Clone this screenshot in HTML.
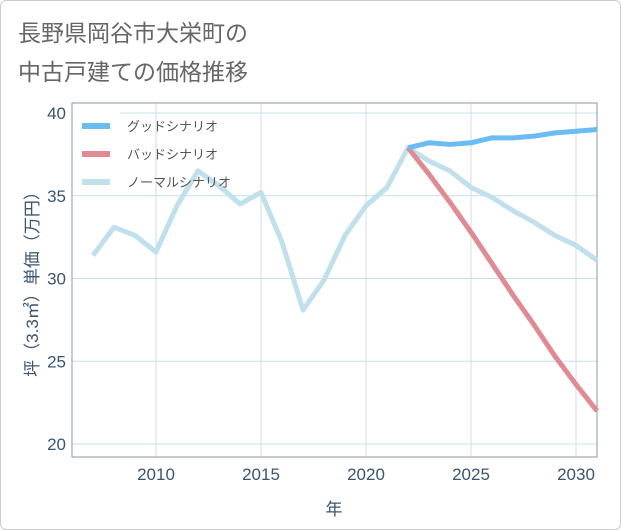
<!DOCTYPE html>
<html><head><meta charset="utf-8"><style>
body{margin:0;background:#fff;}
#card{position:absolute;left:0;top:0;width:619px;height:528px;border:1px solid #ccc;border-radius:6px;background:#fff;}
text{font-family:"Liberation Sans","Noto Sans CJK JP",sans-serif;}
</style></head><body>
<div id="card"></div>
<svg id="chart" width="621" height="530" style="position:absolute;left:0;top:0">
<text x="18" y="41" font-size="23" fill="#666">長野県岡谷市大栄町の</text>
<text x="18" y="80" font-size="23" fill="#666">中古戸建ての価格推移</text>
<g id="grid"></g>
<g id="legendbg"></g>
<g id="series"></g>
<g id="legend"></g>
<text transform="translate(38,280) rotate(-90)" text-anchor="middle" font-size="17" fill="#3c5470">坪（3.3㎡）単価（万円）</text>
<text x="334" y="515" text-anchor="middle" font-size="17" fill="#3c5470">年</text>
</svg>
<script>
const years=[2007,2008,2009,2010,2011,2012,2013,2014,2015,2016,2017,2018,2019,2020,2021,2022,2023,2024,2025,2026,2027,2028,2029,2030,2031];
const normalValues=[31.4,33.1,32.6,31.6,34.4,36.5,35.6,34.5,35.2,32.2,28.1,29.9,32.6,34.4,35.5,37.9,37.1,36.5,35.5,34.9,34.1,33.4,32.6,32.0,31.1];
const forecastYears=[2022,2023,2024,2025,2026,2027,2028,2029,2030,2031];
const goodValues=[37.9,38.2,38.1,38.2,38.5,38.5,38.6,38.8,38.9,39.0];
const badValues=[37.9,36.3,34.6,32.8,30.9,29.0,27.2,25.3,23.6,22.0];
const xTicks=[2010,2015,2020,2025,2030];
const yTicks=[20,25,30,35,40];
const legendLabels=["グッドシナリオ","バッドシナリオ","ノーマルシナリオ"];
const L=72,R=597,T=103,B=457;
const x=v=>L+(v-2006)*(R-L)/25;
const y=v=>444-(v-20)*(444-113)/20;
const NS="http://www.w3.org/2000/svg";
function mk(tag,attrs,parent){const e=document.createElementNS(NS,tag);for(const k in attrs)e.setAttribute(k,attrs[k]);parent.appendChild(e);return e;}
const grid=document.getElementById('grid');
xTicks.forEach(t=>{
 const l=mk('line',{x1:x(t),x2:x(t),y1:T,y2:B,stroke:'#d3dde6','stroke-width':1},grid);
 
 
 const tx=mk('text',{x:x(t),y:B+23,'text-anchor':'middle','font-size':17,fill:'#3c5470'},grid);
 tx.textContent=t;
 
 
});
yTicks.forEach(t=>{
 const l=mk('line',{x1:L,x2:R,y1:y(t),y2:y(t),stroke:'#c7e1ec','stroke-width':1},grid);
 
 
 const tx=mk('text',{x:L-6,y:y(t)+6,'text-anchor':'end','font-size':17,fill:'#3c5470'},grid);
 tx.textContent=t;
 
 
});
const frame=mk('rect',{x:L,y:T,width:R-L,height:B-T,fill:'none',stroke:'#8a98a6','stroke-width':1},grid);


const bg=mk('rect',{x:73,y:110,width:47,height:85,fill:'#fff'},document.getElementById('legendbg'));


const sg=document.getElementById('series');
function line(xs,vals,color,name){
 const p=mk('polyline',{points:xs.map((v,i)=>x(v)+','+y(vals[i])).join(' '),fill:'none',stroke:color,'stroke-width':5,'stroke-linejoin':'round'},sg);
 
 
}
line(years,normalValues,'#c0e0ec','normal-scenario-line');
line(forecastYears,badValues,'#e08a92','bad-scenario-line');
line(forecastYears,goodValues,'#6bbcf2','good-scenario-line');
const lg=document.getElementById('legend');
const lc=['#6bbcf2','#e08a92','#c0e0ec'];
legendLabels.forEach((s,i)=>{
 const yy=126+i*28;
 const r=mk('line',{x1:82,x2:110,y1:yy,y2:yy,stroke:lc[i],'stroke-width':6},lg);
 
 
 const t=mk('text',{x:127,y:yy+5,'font-size':13,fill:'#555'},lg);
 t.textContent=s;
 
 
});
</script>
</body></html>
